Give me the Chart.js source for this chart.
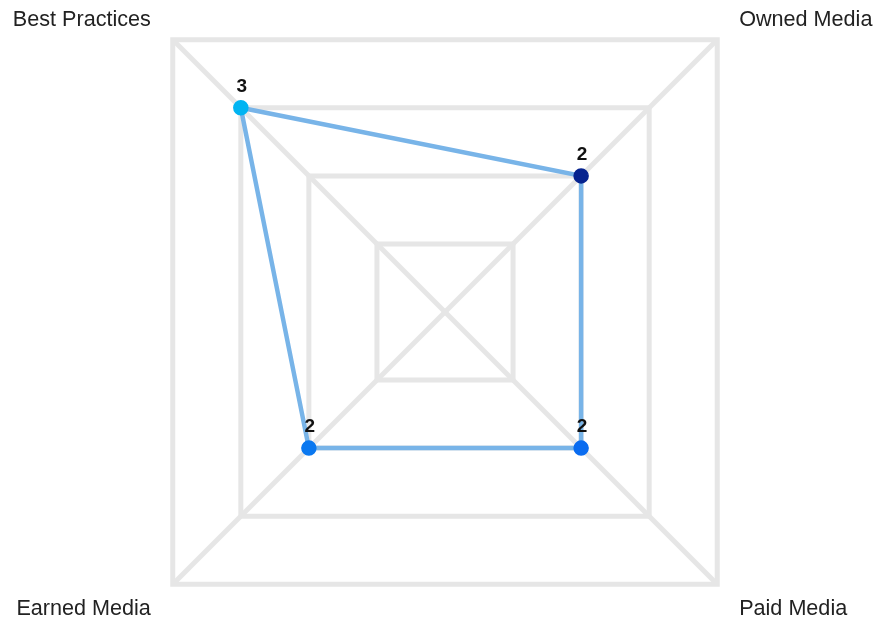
<!DOCTYPE html>
<html>
<head>
<meta charset="utf-8">
<title>Radar</title>
<script src="https://cdn.jsdelivr.net/npm/chart.js@4.4.1/dist/chart.umd.min.js"></script>
<style>
  html, body { margin: 0; padding: 0; background: #fff; }
  #wrap { width: 875px; height: 623px; position: relative; }
</style>
</head>
<body>
<div id="wrap"><canvas id="radar-Chart"></canvas></div>
<script>
const labels = ["Best Practices", "Owned Media", "Paid Media", "Earned Media"];
const scores = [3, 2, 2, 2];
const pointColors = ["#00b4f2", "#06238f", "#0a6cf0", "#0a78f0"];

// big square grid, centred a touch right of the canvas middle
function placeScale(scale) {
  scale.xCenter = 445;
  scale.yCenter = 312;
  scale.drawingArea = 385;
}

// axis names sitting just outside each corner of the outer square
const cornerLabels = {
  id: "cornerLabels",
  afterDraw(chart) {
    const scale = chart.scales.r;
    const ctx = chart.ctx;
    ctx.save();
    ctx.font = "21.6px 'Liberation Sans', Arial, sans-serif";
    ctx.fillStyle = "#222";
    ctx.textBaseline = "middle";
    labels.forEach((name, i) => {
      const p = scale.getPointPosition(i, scale.drawingArea + 31);
      ctx.textAlign = p.x < scale.xCenter ? "right" : "left";
      const dy = p.y < scale.yCenter ? 2 : 3;
      ctx.fillText(name, p.x, p.y + dy);
    });
    ctx.restore();
  },
};

// value written above each point
const valueLabels = {
  id: "valueLabels",
  afterDatasetsDraw(chart) {
    const ctx = chart.ctx;
    const meta = chart.getDatasetMeta(0);
    ctx.save();
    ctx.font = "bold 19px 'Liberation Sans', Arial, sans-serif";
    ctx.fillStyle = "#111";
    ctx.textAlign = "center";
    ctx.textBaseline = "alphabetic";
    meta.data.forEach((pt, i) => {
      ctx.fillText(String(scores[i]), pt.x + 1, pt.y - 16);
    });
    ctx.restore();
  },
};

const data = {
  labels: labels,
  datasets: [
    {
      label: "Score",
      data: scores,
      fill: false,
      borderColor: "#78b4e8",
      borderWidth: 4.5,
      pointRadius: 7,
      pointBorderWidth: 1.5,
      pointBackgroundColor: pointColors,
      pointBorderColor: pointColors,
    },
  ],
};

const config = {
  type: "radar",
  data: data,
  options: {
    responsive: true,
    maintainAspectRatio: false,
    animation: false,
    plugins: {
      legend: { display: false },
      tooltip: { enabled: false },
    },
    scales: {
      r: {
        min: 0,
        max: 4,
        startAngle: -45,
        ticks: { stepSize: 1, display: false },
        grid: { color: "#e6e6e6", lineWidth: 5 },
        angleLines: { color: "#e6e6e6", lineWidth: 5 },
        pointLabels: { display: false },
        afterFit: placeScale,
      },
    },
  },
  plugins: [cornerLabels, valueLabels],
};

let myChart = new Chart(document.getElementById("radar-Chart"), config);
</script>
</body>
</html>
